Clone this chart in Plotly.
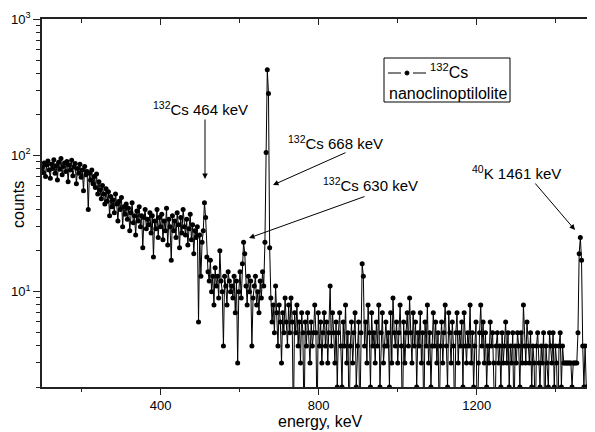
"""
plot.py
Gamma spectrum of 132Cs on nanoclinoptilolite, log counts vs energy.
"""

import plotly.graph_objects as go

# --- data: counts per channel, channels start at 100 keV, 3 keV wide ---
E_START = 100
E_STEP = 3

counts = [
    82, 75, 88, 70, 85, 91, 78, 68, 86, 80,      # 100-127 keV
    93, 74, 84, 66, 89, 79, 95, 72, 83, 88,      # 130-157
    76, 90, 64, 85, 78, 92, 71, 82, 87, 62,      # 160-187
    80, 74, 86, 69, 78, 55, 83, 72, 76, 40,      # 190-217
    74, 66, 78, 62, 70, 58, 73, 52, 64, 56,      # 220-247
    48, 60, 52, 44, 57, 46, 54, 36, 50, 42,      # 250-277
    47, 38, 52, 44, 33, 46, 40, 49, 30, 42,      # 280-307
    37, 44, 34, 41, 28, 38, 45, 32, 36, 26,      # 310-337
    39, 33, 42, 30, 36, 21, 35, 40, 29, 34,      # 340-367
    31, 38, 27, 36, 18, 33, 29, 40, 25, 35,      # 370-397
    30, 37, 24, 33, 28, 41, 22, 34, 30, 17,      # 400-427
    36, 28, 33, 25, 38, 31, 21, 35, 27, 40,      # 430-457
    30, 26, 34, 22, 29, 37, 24, 31, 19, 28,      # 460-487
    25, 30, 6, 26, 13, 23, 28, 45, 35, 18,       # 490-517
    14, 12, 17, 10, 13, 8, 15, 11, 13, 9,        # 520-547
    20, 12, 10, 4, 13, 11, 8, 14, 12, 10,        # 550-577
    11, 9, 13, 7, 12, 3, 10, 14, 9, 16,          # 580-607
    23, 19, 11, 8, 13, 10, 12, 4, 9, 11,         # 610-637
    13, 8, 10, 7, 12, 9, 14, 11, 23, 105,        # 640-667
    425, 284, 21, 9, 6, 8, 5, 11, 7, 4,          # 670-697
    8, 6, 3, 7, 5, 9, 6, 4, 8, 5,                # 700-727
    9, 6, 1, 7, 5, 8, 4, 6, 3, 7,                # 730-757
    5, 1, 6, 4, 7, 5, 3, 6, 4, 5,                # 760-787
    8, 5, 1, 7, 4, 6, 3, 5, 7, 4,                # 790-817
    6, 3, 5, 11, 4, 7, 5, 3, 6, 2,               # 820-847
    5, 7, 4, 2, 6, 4, 8, 3, 5, 1,                # 850-877
    4, 6, 3, 5, 7, 2, 4, 6, 1, 5,                # 880-907
    16, 13, 4, 6, 3, 8, 5, 2, 7, 4,              # 910-937
    5, 3, 6, 4, 8, 2, 5, 7, 3, 4,                # 940-967
    6, 4, 5, 2, 7, 3, 9, 5, 4, 6,                # 970-997
    3, 5, 8, 4, 1, 6, 3, 5, 7, 4,                # 1000-1027
    9, 5, 3, 7, 4, 6, 2, 5, 4, 7,                # 1030-1057
    3, 5, 1, 6, 4, 8, 3, 5, 2, 4,                # 1060-1087
    7, 4, 6, 3, 5, 1, 4, 6, 3, 5,                # 1090-1117
    8, 4, 2, 7, 5, 3, 6, 4, 1, 5,                # 1120-1147
    7, 3, 5, 4, 6, 2, 7, 4, 3, 5,                # 1150-1177
    4, 8, 3, 5, 2, 4, 6, 1, 3, 5,                # 1180-1207
    8, 4, 6, 3, 5, 2, 4, 3, 6, 4,                # 1210-1237
    5, 3, 1, 4, 5, 3, 4, 2, 5, 3,                # 1240-1267
    4, 6, 3, 5, 2, 4, 3, 5, 1, 4,                # 1270-1297
    3, 5, 4, 2, 5, 3, 8, 4, 3, 6,                # 1300-1327
    4, 3, 5, 2, 4, 3, 1, 4, 5, 3,                # 1330-1357
    2, 4, 3, 5, 1, 4, 3, 2, 5, 4,                # 1360-1387
    3, 5, 2, 4, 3, 1, 4, 5, 2, 4,                # 1390-1417
    3, 3, 3, 3, 3, 3, 3, 2, 3, 3,                # 1420-1447
    3, 3, 5, 19, 25, 17, 4, 2, 4, 2,             # 1450-1477
    2, 2, 2, 2, 2,                               # 1480-1492
]

x_ticks = [400, 800, 1200]
x_minor = [200, 600, 1000, 1400]
y_ticks = [10, 100, 1000]
y_ticktext = ["10<sup>1</sup>", "10<sup>2</sup>", "10<sup>3</sup>"]
y_minor = [2, 3, 4, 5, 6, 7, 8, 9, 20, 30, 40, 50, 60, 70, 80, 90,
           200, 300, 400, 500, 600, 700, 800, 900]

labels = [
    # text, text centre (px), arrow tip (px), arrow tail (px)
    ("<sup>132</sup>Cs 464 keV", (200, 109), (205, 179), (205, 118)),
    ("<sup>132</sup>Cs 668 keV", (335, 142), (273, 185), (347, 152)),
    ("<sup>132</sup>Cs 630 keV", (370, 184), (249, 238), (366, 196)),
    ("<sup>40</sup>K 1461 keV", (517, 172), (575, 230), (534, 182)),
]

FONT = "Liberation Sans, Arial, sans-serif"
X_RANGE = [100, 1494]
Y_RANGE = [0.301, 3]

# page body has an 8px margin, so the figure sits 8px in from the window
OFF = 8
W, H = 595 - OFF, 432 - OFF
# plot area in window pixels
L, R, T, B = 42, 593, 19, 387


def px(x):
    return (x - L) / (R - L)


def py(y):
    return (B - y) / (B - T)


def add_text(text, x, y, size, xanchor="center", **kw):
    fig.add_annotation(text=text, x=px(x), y=py(y), xref="paper",
                       yref="paper", xanchor=xanchor, yanchor="middle",
                       showarrow=False, font=dict(size=size, family=FONT),
                       **kw)


fig = go.Figure()
fig.add_trace(go.Scatter(
    y=counts, x0=E_START, dx=E_STEP,
    mode="lines+markers",
    line=dict(color="black", width=1),
    marker=dict(color="black", size=5),
    showlegend=False,
))

axis_common = dict(showline=True, linecolor="#222", linewidth=1.5,
                   showgrid=False, zeroline=False, tickcolor="#222",
                   automargin=False)

fig.update_layout(
    width=W, height=H,
    margin=dict(l=L - OFF, r=W - (R - OFF), t=T - OFF, b=H - (B - OFF)),
    plot_bgcolor="white", paper_bgcolor="white",
    font=dict(family=FONT, color="black"),
    xaxis=dict(range=X_RANGE, tickmode="array", tickvals=x_ticks,
               ticks="outside", ticklen=6, tickwidth=1.2,
               tickfont=dict(size=13),
               minor=dict(tickvals=x_minor, ticks="outside",
                          ticklen=3, tickwidth=1.2, tickcolor="#222"),
               **axis_common),
    yaxis=dict(type="log", range=Y_RANGE, tickmode="array",
               tickvals=y_ticks, ticktext=y_ticktext,
               ticks="outside", ticklen=7, tickwidth=1.2,
               tickfont=dict(size=13),
               minor=dict(tickvals=y_minor, ticks="outside", ticklen=4,
                          tickwidth=1.2, tickcolor="#222"),
               **axis_common),
    xaxis2=dict(range=X_RANGE, overlaying="x", side="top", anchor="y",
                tickmode="array", tickvals=x_ticks, ticks="inside",
                ticklen=6, tickwidth=1.2, showticklabels=False,
                minor=dict(tickvals=x_minor, ticks="inside",
                           ticklen=4, tickwidth=1.2, tickcolor="#222"),
                **axis_common),
    yaxis2=dict(type="log", range=Y_RANGE, overlaying="y", side="right",
                anchor="x", tickmode="array", tickvals=y_ticks,
                ticks="inside", ticklen=6, tickwidth=1.2,
                showticklabels=False,
                minor=dict(tickvals=y_minor, ticks="inside", ticklen=4,
                           tickwidth=1.2, tickcolor="#222"),
                **axis_common),
)

# empty trace so the top/right axes get drawn
fig.add_trace(go.Scatter(x=[None], y=[None], xaxis="x2", yaxis="y2",
                         showlegend=False, hoverinfo="skip"))

# axis titles
add_text("energy, keV", 320, 421, 16)
add_text("counts", 18, 205, 16, textangle=-90)

# peak labels with arrows
for text, (tx, ty), (hx, hy), (sx, sy) in labels:
    add_text(text, tx, ty, 15)
    fig.add_annotation(text="", x=px(hx), y=py(hy), xref="paper",
                       yref="paper", ax=sx - hx, ay=sy - hy,
                       showarrow=True, arrowhead=2, arrowsize=1.1,
                       arrowwidth=1, arrowcolor="black", standoff=0)

# hand-made legend box
fig.add_shape(type="rect", xref="paper", yref="paper",
              x0=px(384), x1=px(510), y0=py(102), y1=py(58),
              line=dict(color="black", width=1), fillcolor="white")
fig.add_shape(type="line", xref="paper", yref="paper",
              x0=px(388), x1=px(401), y0=py(73), y1=py(73),
              line=dict(color="black", width=1))
fig.add_shape(type="line", xref="paper", yref="paper",
              x0=px(413), x1=px(426), y0=py(73), y1=py(73),
              line=dict(color="black", width=1))
fig.add_shape(type="circle", xref="paper", yref="paper",
              x0=px(405), x1=px(409), y0=py(75), y1=py(71),
              line=dict(color="black", width=1), fillcolor="black")
add_text("<sup>132</sup>Cs", 428, 71, 16, xanchor="left")
add_text("nanoclinoptilolite", 387, 93, 16, xanchor="left")

fig.write_html("out.html")
print("Saved out.html")
